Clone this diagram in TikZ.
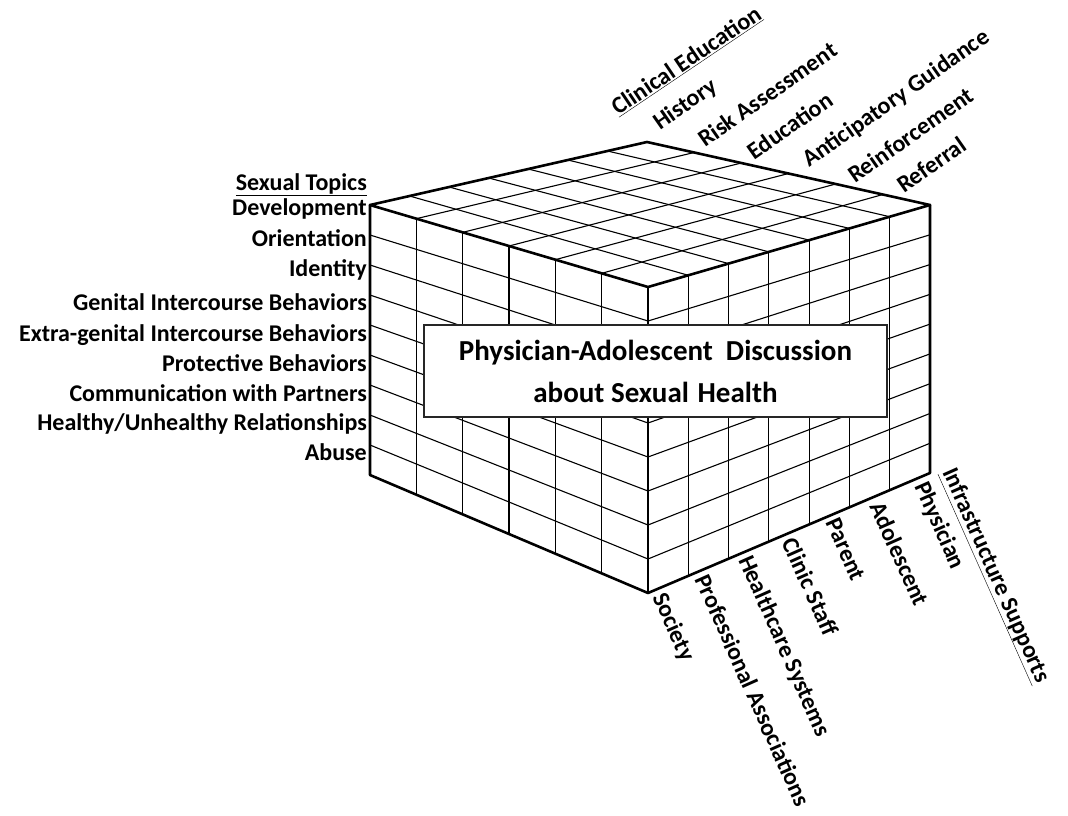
\documentclass[tikz,border=0pt]{standalone}
\usepackage{fontspec}
\setmainfont{Carlito}
\usetikzlibrary{calc}
\begin{document}
\begin{tikzpicture}[x=1pt,y=-1pt,
  gridline/.style={line width=1.1pt,black},
  edge/.style={line width=2.6pt,black,line join=round,line cap=round},
  lblfont/.style={font=\fontsize{24}{28}\selectfont\bfseries},
  lefttopic/.style={lblfont,anchor=base east,inner sep=0pt},
  toplab/.style={lblfont,anchor=base west,rotate=35,inner sep=0pt},
  botlab/.style={lblfont,anchor=north west,rotate=-66,inner sep=0pt},
  titlebox/.style={draw=black!85,line width=1.2pt,fill=white,minimum width=463pt,minimum height=92pt,align=center,inner sep=0pt,font=\fontsize{29}{42}\selectfont\bfseries}
]
\useasboundingbox (0,0) rectangle (1068,815);
% cube corners
\coordinate (Lt) at (370,205);
\coordinate (Lb) at (370,475);
\coordinate (Ft) at (648,287);
\coordinate (Fb) at (648,593);
\coordinate (Rt) at (930,205);
\coordinate (Rb) at (930,473);
\coordinate (Bk) at (647,142);
% front-left face grid
\foreach \i in {1,...,5}{
  \draw[gridline] ($(Lt)!\i/6!(Ft)$) -- ($(Lb)!\i/6!(Fb)$);}
\foreach \j in {1,...,8}{
  \draw[gridline] ($(Lt)!\j/9!(Lb)$) -- ($(Ft)!\j/9!(Fb)$);}
% right face grid
\foreach \i in {1,...,6}{
  \draw[gridline] ($(Ft)!\i/7!(Rt)$) -- ($(Fb)!\i/7!(Rb)$);}
\foreach \j in {1,...,8}{
  \draw[gridline] ($(Ft)!\j/9!(Fb)$) -- ($(Rt)!\j/9!(Rb)$);}
% top face grid
\foreach \i in {1,...,6}{
  \draw[gridline] ($(Lt)!\i/7!(Bk)$) -- ($(Ft)!\i/7!(Rt)$);}
\foreach \i in {1,...,5}{
  \draw[gridline] ($(Lt)!\i/6!(Ft)$) -- ($(Bk)!\i/6!(Rt)$);}
% outer edges
\draw[edge] (Lt) -- (Bk) -- (Rt) -- (Ft) -- cycle;
\draw[edge] (Lt) -- (Lb) -- (Fb) -- (Rb) -- (Rt);
\draw[edge] (Ft) -- (Fb);
% title box
\node[titlebox] (title) at (655.5,371) {Physician-Adolescent\hspace{0.45em}Discussion\\about Sexual\hspace{0.3em}Health};
% sexual topics
\node[lefttopic] (st) at (367,190) {\underline{Sexual Topics}};
\node[lefttopic] (t1) at (367,215) {Development};
\node[lefttopic] (t2) at (367,246) {Orientation};
\node[lefttopic] (t3) at (367,276) {Identity};
\node[lefttopic] (t4) at (367,310) {Genital Intercourse Behaviors};
\node[lefttopic] (t5) at (367,341) {Extra-genital Intercourse Behaviors};
\node[lefttopic] (t6) at (367,371) {Protective Behaviors};
\node[lefttopic] (t7) at (367,401) {Communication with Partners};
\node[lefttopic] (t8) at (367,430) {Healthy/Unhealthy Relationships};
\node[lefttopic] (t9) at (367,460) {Abuse};
% clinical education
\node[toplab,rotate=-1] (ce) at (618,116) {\underline{Clinical Education}};
\node[toplab] (c1) at (660,131) {History};
\node[toplab] (c2) at (705,148) {Risk Assessment};
\node[toplab] (c3) at (754,161) {Education};
\node[toplab] (c4) at (809,168) {Anticipatory Guidance};
\node[toplab] (c5) at (855,184) {Reinforcement};
\node[toplab] (c6) at (904,194) {Referral};
% infrastructure supports
\node[botlab] (s1) at (668,590) {Society};
\node[botlab] (s2) at (710,572) {Professional Associations};
\node[botlab] (s3) at (754,553) {Healthcare Systems};
\node[botlab] (s4) at (797,535) {Clinic Staff};
\node[botlab] (s5) at (840,516) {Parent};
\node[botlab] (s6) at (885,499) {Adolescent};
\node[botlab] (s7) at (930,479) {Physician};
\node[botlab] (is) at (958,465) {\underline{Infrastructure Supports}};
\end{tikzpicture}
\end{document}
